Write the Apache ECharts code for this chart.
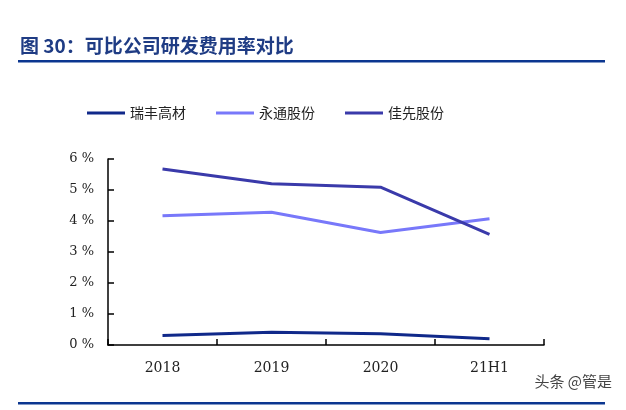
<!DOCTYPE html>
<html>
<head>
<meta charset="utf-8">
<script src="https://cdn.jsdelivr.net/npm/echarts@6/dist/echarts.min.js"></script>
<style>
  html, body { margin: 0; padding: 0; background: #fff; }
  #chart { width: 626px; height: 410px; }
</style>
</head>
<body>
<div id="chart"></div>
<script>
// 类目与数据
const categories = ['2018', '2019', '2020', '21H1'];
const ruifeng = [0.31, 0.41, 0.36, 0.2];   // 瑞丰高材
const yongtong = [4.17, 4.28, 3.63, 4.07]; // 永通股份
const jiaxian = [5.68, 5.2, 5.09, 3.57];   // 佳先股份
const yTicks = [0, 1, 2, 3, 4, 5, 6];

const chart = echarts.init(document.getElementById('chart'));

const serif = '"DejaVu Serif", "Liberation Serif", serif';
const cjk = '"Noto Sans CJK SC", sans-serif';

const lineSeries = (name, data, color) => ({
  name,
  type: 'line',
  data,
  symbol: 'none',
  lineStyle: { color, width: 3 },
  itemStyle: { color },
});

chart.setOption({
  animation: false,
  graphic: [
    {
      type: 'text',
      left: 20,
      top: 36,
      style: {
        text: '图 30：可比公司研发费用率对比',
        font: 'bold 19px "Noto Sans CJK SC"',
        fill: '#1f3c84',
      },
    },
    {
      type: 'rect',
      shape: { x: 18, y: 60, width: 587, height: 2.5 },
      style: { fill: '#0b3690' },
    },
    {
      type: 'rect',
      shape: { x: 18, y: 402, width: 587, height: 2.5 },
      style: { fill: '#0b3690' },
    },
    {
      type: 'text',
      right: 14,
      top: 374,
      style: {
        text: '头条 @管是',
        font: '15px "Noto Sans CJK SC"',
        fill: '#444',
      },
    },
  ],
  legend: {
    top: 101,
    left: 82,
    itemWidth: 38,
    itemHeight: 3,
    itemGap: 30,
    icon: 'rect',
    textStyle: { fontFamily: cjk, fontSize: 14, color: '#222' },
    data: ['瑞丰高材', '永通股份', '佳先股份'],
  },
  grid: { left: 108, right: 82, top: 159, bottom: 65 },
  xAxis: {
    type: 'category',
    data: categories,
    boundaryGap: true,
    axisLine: { lineStyle: { color: '#000', width: 1.5 } },
    axisTick: { show: true, inside: true, length: 6, lineStyle: { color: '#000', width: 1.5 } },
    axisLabel: { fontFamily: serif, fontSize: 14, color: '#222', margin: 16 },
  },
  yAxis: {
    type: 'value',
    min: 0,
    max: 6,
    interval: 1,
    splitLine: { show: false },
    axisLine: { show: true, lineStyle: { color: '#000', width: 1.5 } },
    axisTick: { show: true, inside: true, length: 6, lineStyle: { color: '#000', width: 1.5 } },
    axisLabel: {
      fontFamily: serif,
      fontSize: 13,
      color: '#222',
      margin: 14,
      formatter: (v) => (yTicks.includes(v) ? v + ' %' : ''),
    },
  },
  series: [
    lineSeries('瑞丰高材', ruifeng, '#10298a'),
    lineSeries('永通股份', yongtong, '#7878fa'),
    lineSeries('佳先股份', jiaxian, '#3a3aaa'),
  ],
});
</script>
</body>
</html>
